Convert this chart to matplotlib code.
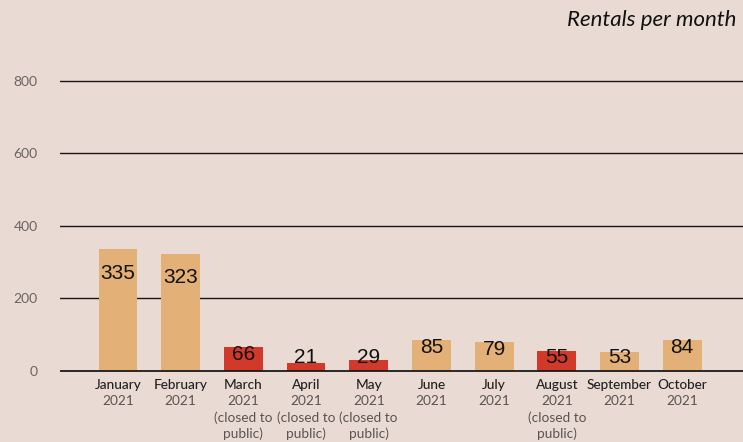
import matplotlib
matplotlib.use("Agg")
import matplotlib.pyplot as plt
import matplotlib.transforms as mtransforms

months = ["January", "February", "March", "April", "May", "June", "July",
          "August", "September", "October"]
years = ["2021"] * 10
closed = [False, False, True, True, True, False, False, True, False, False]
rentals = [335, 323, 66, 21, 29, 85, 79, 55, 53, 84]
yticks = [0, 200, 400, 600, 800]
title = "Rentals per month"

BG = "#e9dad3"
TAN = "#e3b077"
RED = "#d1392a"

fig = plt.figure(figsize=(7.43, 4.42), dpi=100, facecolor=BG)
ax = fig.add_axes([60 / 743, 1 - 373 / 442, 1 - 60 / 743, (373 - 62.7) / 442])
ax.set_facecolor(BG)

x = list(range(len(months)))
colors = [RED if c else TAN for c in closed]

for t in yticks[1:]:
    ax.axhline(t, color="#1a1616", lw=1.0, zorder=1)
ax.bar(x, rentals, width=0.62, color=colors, zorder=2)
ax.axhline(0, color="#1a1a1a", lw=1.3, zorder=3)

for xi, v in zip(x, rentals):
    ly = v * 0.8 if v > 200 else max(v - 20, 36)
    ax.text(xi, ly, str(v), ha="center", va="center", fontsize=15,
            family="Liberation Sans", color="#111111", zorder=4)

ax.set_xlim(-0.925, 9.97)
ax.set_ylim(-6, 850)
ax.set_yticks(yticks)
ax.set_yticklabels([str(t) for t in yticks], family="Lato", fontsize=10,
                   color="#6b6462")
ax.tick_params(axis="y", length=0, pad=16)
ax.set_xticks([])
for s in ax.spines.values():
    s.set_visible(False)

trans = mtransforms.blended_transform_factory(ax.transData, fig.transFigure)
for xi, m, yr, c in zip(x, months, years, closed):
    ax.text(xi, 1 - 385 / 442, m, transform=trans, ha="center", va="center",
            family="Lato", fontsize=9.8, fontweight="medium", color="#222222")
    ax.text(xi, 1 - 401 / 442, yr, transform=trans, ha="center", va="center",
            family="Lato", fontsize=9.8, color="#5a5452")
    if c:
        ax.text(xi, 1 - 418 / 442, "(closed to", transform=trans, ha="center",
                va="center", family="Lato", fontsize=9.8, color="#5a5452")
        ax.text(xi, 1 - 434 / 442, "public)", transform=trans, ha="center",
                va="center", family="Lato", fontsize=9.8, color="#5a5452")

fig.text(736 / 743, 1 - 20 / 442, title, ha="right", va="center",
         family="Lato", style="italic", fontsize=16, color="#111111")

fig.savefig("out.png", dpi=100, facecolor=BG)
